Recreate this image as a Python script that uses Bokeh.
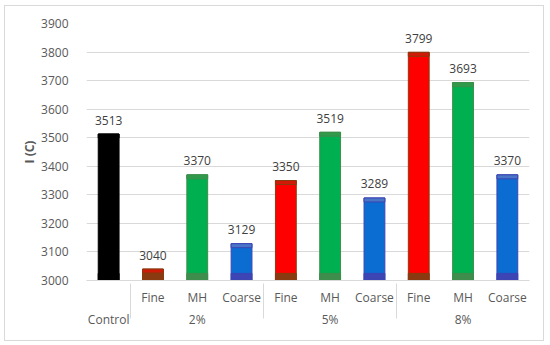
from bokeh.plotting import figure
from bokeh.models import FactorRange, ColumnDataSource, FixedTicker
from bokeh.embed import file_html
from bokeh.resources import INLINE
from bokeh.core.properties import value

# ---- data ----
groups = ["Control", "2%", "2%", "2%", "5%", "5%", "5%", "8%", "8%", "8%"]
subs = ["", "Fine", "MH", "Coarse", "Fine", "MH", "Coarse", "Fine", "MH", "Coarse"]
values = [3513, 3040, 3370, 3129, 3350, 3519, 3289, 3799, 3693, 3370]
y_ticks = [3000, 3100, 3200, 3300, 3400, 3500, 3600, 3700, 3800, 3900]
base = 3000

fill_map = {"": "#000000", "Fine": "#FF0000", "MH": "#00B050", "Coarse": "#0B6DD2"}
edge_map = {"": "#000000", "Fine": "#8A3A10", "MH": "#3E8D4C", "Coarse": "#3C45B3"}
top_map = {"": "#000000", "Fine": "#D01A08", "MH": "#2E9A4A", "Coarse": "#4A74C6"}

x = list(zip(groups, subs))
src = ColumnDataSource(dict(
    x=x,
    top=values,
    fill=[fill_map[s] for s in subs],
    edge=[edge_map[s] for s in subs],
    tband=[top_map[s] for s in subs],
    tb_bottom=[max(base, v - 14) for v in values],
    bb_top=[min(v, base + 25) for v in values],
    label=[str(v) for v in values],
))

p = figure(x_range=FactorRange(*x, range_padding=0, group_padding=0, factor_padding=0),
           y_range=(3000, 3900), width=540, height=336,
           output_backend="svg", toolbar_location=None,
           min_border_left=81, min_border_right=16, min_border_top=17, min_border_bottom=62)
p.margin = (5, 0, 0, 4)

p.vbar(x="x", top="top", bottom=base, width=0.47, source=src,
       fill_color="fill", line_color="edge", line_width=1)
# darker bands at top and bottom of each bar (shading)
p.vbar(x="x", top="top", bottom="tb_bottom", width=0.47, source=src,
       fill_color="tband", line_color="edge", line_width=1)
p.vbar(x="x", top="bb_top", bottom=base, width=0.47, source=src,
       fill_color="edge", line_color="edge", line_width=1)

p.text(x="x", y="top", text="label", source=src, text_align="center",
       text_baseline="middle", y_offset=-14, text_font=value("Open Sans"),
       text_font_size="12px", text_color="#404040")

p.outline_line_color = None
p.xgrid.grid_line_color = None
p.ygrid.grid_line_color = "#D9D9D9"
p.ygrid.grid_line_width = 1
p.yaxis.ticker = FixedTicker(ticks=y_ticks)
p.yaxis.axis_line_color = None
p.yaxis.major_tick_line_color = None
p.yaxis.minor_tick_line_color = None
p.yaxis.major_label_text_font = "Open Sans"
p.yaxis.major_label_text_font_size = "12px"
p.yaxis.major_label_text_color = "#595959"
p.yaxis.major_label_standoff = 12
p.yaxis.axis_label = "I (C)"
p.yaxis.axis_label_text_font = "Open Sans"
p.yaxis.axis_label_text_font_style = "bold"
p.yaxis.axis_label_text_font_size = "12px"
p.yaxis.axis_label_text_color = "#595959"
p.yaxis.axis_label_standoff = 0

xa = p.xaxis[0]
xa.axis_line_color = "#D9D9D9"
xa.major_tick_line_color = None
xa.minor_tick_line_color = None
xa.major_label_text_font = "Open Sans"
xa.major_label_text_font_size = "12px"
xa.major_label_text_color = "#595959"
xa.group_text_font = "Open Sans"
xa.group_text_font_size = "12px"
xa.group_text_color = "#595959"
xa.group_text_font_style = "normal"
xa.separator_line_color = "#D9D9D9"
xa.separator_line_width = 1
xa.major_label_standoff = 2

p.styles = {"border": "1px solid #D9D9D9"}

open("out.html", "w").write(file_html(p, INLINE))
